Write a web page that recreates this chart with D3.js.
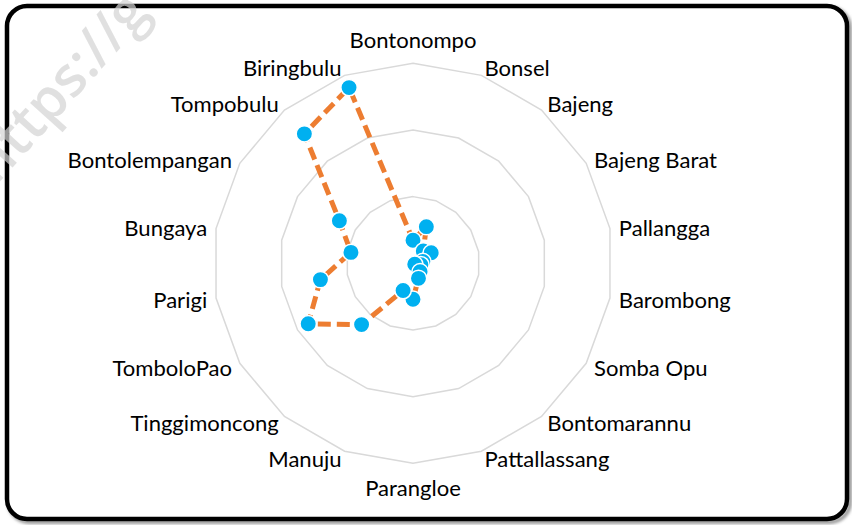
<!DOCTYPE html>
<html>
<head>
<meta charset="utf-8">
<script src="https://cdn.jsdelivr.net/npm/d3@7"></script>
<style>
  body { margin: 0; background: #fff; }
  svg { display: block; }
</style>
</head>
<body>
<script>
// chart data (clockwise from the top)
var districts = ["Bontonompo", "Bonsel", "Bajeng", "Bajeng Barat", "Pallangga", "Barombong",
    "Somba Opu", "Bontomarannu", "Pattallassang", "Parangloe", "Manuju", "Tinggimoncong",
    "TomboloPao", "Parigi", "Bungaya", "Bontolempangan", "Tompobulu", "Biringbulu"];
var scores = [3.45, 5.85, 2.4, 3.15, 1.5, 1.2, 0.3, 1.65, 2.4, 5.4, 4.35, 12, 18.15, 14.1, 9.45, 12.75, 25.35, 28.05];
var ringValues = [10, 20, 30];

// svg size
var svgWidth = 852;
var svgHeight = 525;
var cx = 413, cy = 263.3;
var outerRadius = 200;

var svg = d3.select("body").append("svg")
    .attr("width", svgWidth)
    .attr("height", svgHeight);

var defs = svg.append("defs");
defs.append("filter").attr("id", "shadow")
    .append("feGaussianBlur").attr("stdDeviation", 1.5);

// frame with a soft shadow
svg.append("rect")
    .attr("x", 9).attr("y", 8)
    .attr("width", 841).attr("height", 514)
    .attr("rx", 20)
    .attr("fill", "none")
    .attr("stroke", "#999")
    .attr("stroke-width", 4)
    .attr("filter", "url(#shadow)");

svg.append("rect")
    .attr("x", 7).attr("y", 6)
    .attr("width", 840).attr("height", 513)
    .attr("rx", 20)
    .attr("fill", "#fff")
    .attr("stroke", "#000")
    .attr("stroke-width", 4.5);

var chartGroup = svg.append("g")
    .attr("transform", `translate(${cx}, ${cy})`);

var rScale = d3.scaleLinear()
    .domain([0, 30])
    .range([0, outerRadius]);

var angleScale = d3.scaleLinear()
    .domain([0, districts.length])
    .range([0, 2 * Math.PI]);

// grid rings
var ringLine = d3.lineRadial()
    .angle((d, i) => angleScale(i))
    .radius(d => rScale(d))
    .curve(d3.curveLinearClosed);

chartGroup.selectAll(".ring")
    .data(ringValues)
    .enter()
    .append("path")
    .attr("class", "ring")
    .attr("d", v => ringLine(districts.map(() => v)))
    .attr("fill", "none")
    .attr("stroke", "#d9d9d9")
    .attr("stroke-width", 1.5);

// category labels
var labelSize = 20;
var probe = svg.append("text")
    .attr("font-family", "Lato, 'Open Sans', sans-serif")
    .attr("font-size", labelSize)
    .text("Bontonompo");
labelSize = labelSize * 127 / probe.node().getComputedTextLength();
probe.remove();

chartGroup.selectAll(".label")
    .data(districts)
    .enter()
    .append("text")
    .attr("class", "label")
    .attr("font-family", "Lato, 'Open Sans', sans-serif")
    .attr("font-size", labelSize)
    .attr("fill", "#000")
    .attr("dominant-baseline", "central")
    .attr("text-anchor", (d, i) => {
        var s = Math.sin(angleScale(i));
        return Math.abs(s) < 0.01 ? "middle" : (s > 0 ? "start" : "end");
    })
    .attr("x", (d, i) => {
        var a = angleScale(i);
        return outerRadius * Math.sin(a) + 9 * Math.sin(a);
    })
    .attr("y", (d, i) => {
        var a = angleScale(i);
        var c = Math.cos(a);
        var off = Math.abs(Math.sin(a)) < 0.01 ? 24 * c : 8 * c;
        return -outerRadius * c - off;
    })
    .text(d => d);

// data polygon
var dataLine = d3.lineRadial()
    .angle((d, i) => angleScale(i))
    .radius(d => rScale(d))
    .curve(d3.curveLinearClosed);

chartGroup.append("path")
    .attr("d", dataLine(scores))
    .attr("fill", "none")
    .attr("stroke", "#ED7D31")
    .attr("stroke-width", 5)
    .attr("stroke-dasharray", "13,6");

// markers
chartGroup.selectAll(".dot")
    .data(scores)
    .enter()
    .append("circle")
    .attr("class", "dot")
    .attr("cx", (d, i) => rScale(d) * Math.sin(angleScale(i)))
    .attr("cy", (d, i) => -rScale(d) * Math.cos(angleScale(i)))
    .attr("r", 8.2)
    .attr("fill", "#00B0F0")
    .attr("stroke", "#fff")
    .attr("stroke-width", 1.5);

// faint watermark in the corner
svg.append("text")
    .attr("transform", "translate(-4, 186) rotate(-48)")
    .attr("font-family", "'Open Sans', sans-serif")
    .attr("font-size", 56)
    .attr("font-weight", 600)
    .attr("fill", "#d4d4d4")
    .attr("opacity", 0.7)
    .text("https://g");
</script>
</body>
</html>
